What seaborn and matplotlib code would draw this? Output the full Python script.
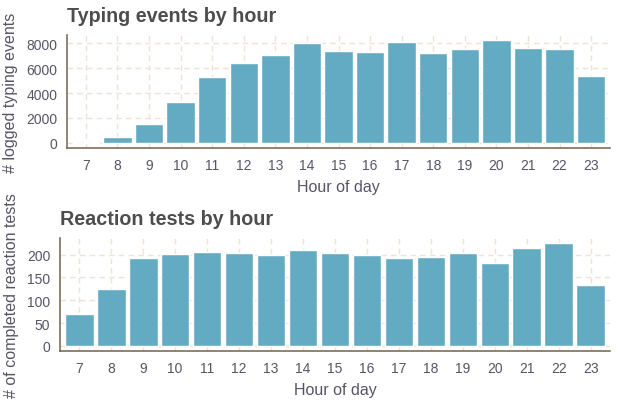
import matplotlib
matplotlib.use("Agg")
import matplotlib.pyplot as plt
import seaborn as sns
import pandas as pd

# Data
hours = list(range(7, 24))
typing_events = [0, 470, 1500, 3250, 5300, 6420, 7050, 8000, 7360, 7290,
                 8080, 7210, 7520, 8240, 7600, 7520, 5380]
reaction_tests = [70, 124, 192, 201, 205, 203, 199, 209, 203, 199,
                  192, 194, 203, 181, 214, 225, 133]

BAR = "#63abc2"
SPINE = "#76614a"
GRID = "#efe3d6"
TEXT = "#555566"
TITLE = "#4d4d4d"

sns.set_theme(style="white")
plt.rcParams["font.family"] = ["Liberation Sans", "DejaVu Sans"]

df_typing = pd.DataFrame({"hour": [str(h) for h in hours], "count": typing_events})
df_react = pd.DataFrame({"hour": [str(h) for h in hours], "count": reaction_tests})

fig = plt.figure(figsize=(6.19, 4.06), dpi=100)
ax1 = fig.add_axes([0.1082, 0.633, 0.8773, 0.2783])
ax2 = fig.add_axes([0.0969, 0.133, 0.8886, 0.2783])


def style_axes(ax, title, ylabel, values, yticks):
    ax.set_xlim(-0.6, len(hours) - 0.4)
    vmax = max(values)
    ax.set_ylim(-0.05 * vmax, 1.05 * vmax)
    ax.set_yticks(yticks)
    ax.set_axisbelow(True)
    ax.grid(True, axis="both", color=GRID, linestyle=(0, (4, 3)), linewidth=1.0)
    for side in ["top", "right"]:
        ax.spines[side].set_visible(False)
    for side in ["left", "bottom"]:
        ax.spines[side].set_color(SPINE)
        ax.spines[side].set_linewidth(1.1)
    ax.tick_params(axis="both", colors=SPINE, length=4, width=1.0,
                   labelcolor=TEXT, labelsize=10, direction="out", pad=3)
    ax.set_title(title, loc="left", fontsize=14.2, fontweight="bold",
                 color=TITLE, pad=10)
    ax.set_xlabel("Hour of day", fontsize=11.5, color=TEXT, labelpad=5)
    ax.set_ylabel(ylabel, fontsize=11.5, color=TEXT, labelpad=6)


sns.barplot(data=df_typing, x="hour", y="count", color=BAR, width=0.9,
            saturation=1, ax=ax1)
style_axes(ax1, "Typing events by hour", "# logged typing events",
           typing_events, [0, 2000, 4000, 6000, 8000])

sns.barplot(data=df_react, x="hour", y="count", color=BAR, width=0.9,
            saturation=1, ax=ax2)
style_axes(ax2, "Reaction tests by hour", "# of completed reaction tests",
           reaction_tests, [0, 50, 100, 150, 200])

fig.savefig("out.png", dpi=100, facecolor="white")
